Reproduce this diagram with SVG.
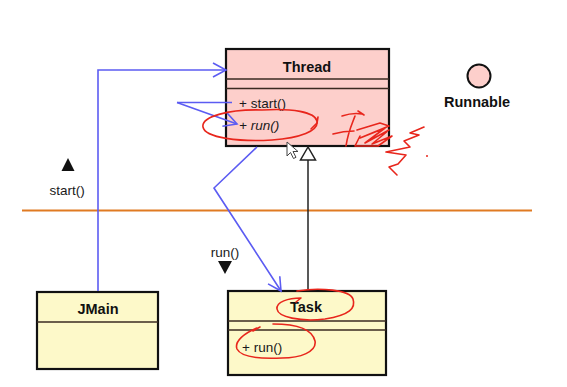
<svg xmlns="http://www.w3.org/2000/svg" width="567" height="387" viewBox="0 0 567 387">
  <style>
    .cls { stroke: #111; stroke-width: 2.2; }
    .sep { stroke: #3a2a20; stroke-width: 1.4; }
    .pink { fill: #fdcfcb; }
    .yellow { fill: #fdf9c9; }
    .name { font-family: "Liberation Sans", Arial, sans-serif; font-weight: bold; font-size: 14.5px; fill: #111; text-anchor: middle; }
    .op { font-family: "Liberation Sans", Arial, sans-serif; font-size: 13.5px; fill: #1a1a1a; }
    .msg { stroke: #5c5cf2; stroke-width: 1.6; fill: none; }
    .ink { stroke: #e8261c; stroke-width: 1.6; fill: none; stroke-linecap: round; stroke-linejoin: round; }
  </style>
  <defs>
    <marker id="open" markerUnits="userSpaceOnUse" markerWidth="16" markerHeight="18" refX="14" refY="8" orient="auto" viewBox="0 0 16 16">
      <path d="M1 1 L14 8 L1 15" fill="none" stroke="#5c5cf2" stroke-width="1.6"/>
    </marker>
  </defs>

  <rect width="567" height="387" fill="#ffffff"/>

  <!-- swimlane divider -->
  <line x1="22" y1="210.5" x2="532" y2="210.5" stroke="#e07a22" stroke-width="2.2"/>

  <!-- class Thread -->
  <g id="thread">
    <rect class="cls pink" x="226" y="49" width="163" height="97"/>
    <line class="sep" x1="226" y1="79" x2="389" y2="79"/>
    <line class="sep" x1="226" y1="88.5" x2="389" y2="88.5"/>
    <text class="name" x="307" y="72">Thread</text>
    <text class="op" x="239" y="108">+ start()</text>
    <text class="op" x="239" y="130" font-style="italic">+ run()</text>
  </g>

  <!-- interface Runnable -->
  <g id="runnable">
    <circle cx="479" cy="76" r="11.5" fill="#fdcfcb" stroke="#111" stroke-width="2"/>
    <text class="name" x="477" y="107" font-size="13.5px">Runnable</text>
  </g>

  <!-- class JMain -->
  <g id="jmain">
    <rect class="cls yellow" x="37" y="292" width="121" height="77"/>
    <line class="sep" x1="37" y1="322" x2="158" y2="322"/>
    <text class="name" x="98" y="314">JMain</text>
  </g>

  <!-- class Task -->
  <g id="task">
    <rect class="cls yellow" x="228" y="291" width="158" height="84"/>
    <line class="sep" x1="228" y1="321" x2="386" y2="321"/>
    <line class="sep" x1="228" y1="330" x2="386" y2="330"/>
    <text class="name" x="306" y="312">Task</text>
    <text class="op" x="242" y="352">+ run()</text>
  </g>

  <!-- message direction markers -->
  <g id="msg-start">
    <polygon points="68,158 61.5,171 74.5,171" fill="#111"/>
    <text class="op" x="67" y="195" text-anchor="middle">start()</text>
  </g>
  <g id="msg-run">
    <text class="op" x="225" y="257" text-anchor="middle">run()</text>
    <polygon points="218,261 232,261 225,274" fill="#111"/>
  </g>

  <!-- connectors -->
  <g id="connectors">
    <polyline class="msg" points="98,291 98,70 226,70" marker-end="url(#open)"/>
    <line class="msg" x1="177" y1="102.5" x2="232" y2="102.5"/>
    <line class="msg" x1="177" y1="102.5" x2="237" y2="124" marker-end="url(#open)"/>
    <polyline class="msg" points="257,147 214,188 281,291" marker-end="url(#open)"/>
    <line x1="308" y1="291" x2="308" y2="159.5" stroke="#222" stroke-width="1.5"/>
    <polygon points="308,147 300.5,160 315.5,160" fill="#fff" stroke="#222" stroke-width="1.5"/>
  </g>

  <!-- freehand red annotations -->
  <g id="annotations">
    <path class="ink" d="M262 110 C228 109 201 117 203 127 C205 138 240 142 272 140 C300 138 319 131 317 121 C315 112 292 108 262 110"/>
    <path class="ink" d="M311 129 L317 123 L318 117"/>
    <path class="ink" d="M342 116 C348 114 356 113 362 114 M358 111 L364 115 M355 116 C352 124 348 132 346 146 M333 134 C340 132 347 131 354 131"/>
    <path class="ink" d="M357 130 L380 123 L389 126 L360 138 L385 128 L365 143 L389 130 L372 144 L392 136 L378 146 L355 146 L360 136"/>
    <path class="ink" d="M424 127 L410 133 L419 135 L404 141 L410 147 L386 152 L406 155 L398 164 L389 167 L397 175"/>
    <circle cx="427" cy="156" r="1" fill="#e8261c"/>
    <path class="ink" d="M297 291 C320 287 350 290 353 299 C356 308 350 315 325 319 C300 322 278 317 277 309 C276 302 288 298 301 298 L296 302"/>
    <path class="ink" d="M273 324 C295 324 312 328 315 341 C317 352 300 358 282 358 C260 359 241 357 237 349 C234 341 245 333 257 328 M253 331 L260 327"/>
  </g>

  <!-- mouse pointer -->
  <path d="M287 142 L287 156 L290.5 152.5 L293.5 158.5 L296 157.3 L293 151.5 L298 151.5 Z" fill="#fff" stroke="#444" stroke-width="1"/>
</svg>
